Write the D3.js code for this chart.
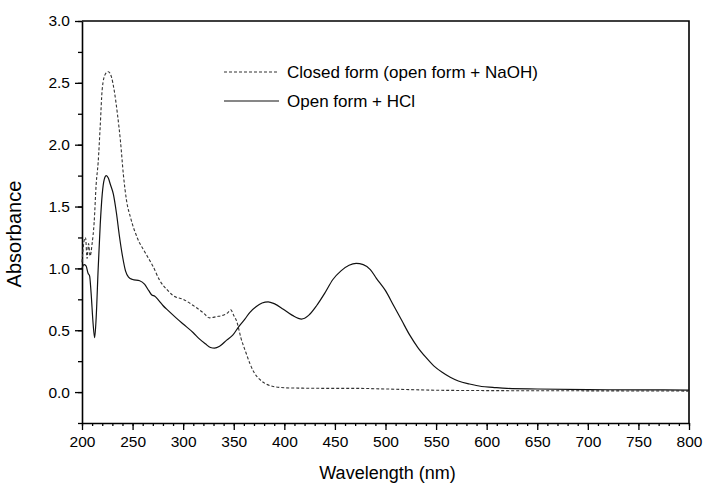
<!DOCTYPE html>
<html>
<head>
<meta charset="utf-8">
<script src="https://cdn.jsdelivr.net/npm/d3@7"></script>
<style>
	body { margin: 0; background: #fff; }
	text { font-family: Arial, "Liberation Sans", sans-serif; fill: #000; }
</style>
</head>
<body>
<div id="my_dataviz"></div>
<script>
var margin = { top: 21, right: 15, bottom: 69, left: 82 },
	width = 704 - margin.left - margin.right,
	height = 492 - margin.top - margin.bottom;

// Open form + HCl (solid)
const hclWl = [200,202,204,206,207.5,209,211,212.5,214,216,218,220,222,224,226,228,231,234,237,240,243,246,250,257,262,266,269,272,276,280,285,293,300,310,316,322,327,331,336,343,349,355,361,366,372,378,384,390,399,408,417,424,432,440,448,456,464,471,478,485,491,500,508,516,524,532,540,548,556,564,572,583,595,606,620,650,700,750,800];
const hclAbs = [1.0,1.03,1.02,0.96,0.94,0.8,0.55,0.44,0.6,1.0,1.35,1.6,1.72,1.75,1.73,1.68,1.6,1.45,1.26,1.1,0.98,0.93,0.91,0.9,0.87,0.82,0.785,0.775,0.74,0.7,0.66,0.6,0.55,0.48,0.43,0.39,0.36,0.355,0.37,0.42,0.46,0.53,0.59,0.645,0.69,0.72,0.73,0.715,0.67,0.62,0.59,0.62,0.7,0.8,0.91,0.98,1.025,1.04,1.03,0.99,0.92,0.82,0.7,0.58,0.46,0.36,0.28,0.21,0.16,0.12,0.09,0.065,0.045,0.038,0.03,0.025,0.02,0.018,0.016];

// Closed form (open form + NaOH) (dashed)
const naohWl = [200,202,203.5,205,206.5,208,210,212,214,216,218,220,223,226,229,232,235,238,241,244,248,255,263,270,277,285,290,300,310,320,326,333,339,344,347,350,353,357,362,366,370,376,382,389,400,415,450,470,500,550,600,700,800];
const naohAbs = [1.05,1.22,1.25,1.08,1.2,1.1,1.2,1.37,1.68,1.86,2.15,2.45,2.57,2.59,2.55,2.43,2.25,2.03,1.75,1.55,1.41,1.24,1.12,1.02,0.9,0.82,0.78,0.75,0.7,0.64,0.6,0.61,0.62,0.64,0.665,0.62,0.57,0.44,0.32,0.23,0.16,0.1,0.065,0.045,0.035,0.032,0.03,0.03,0.025,0.015,0.012,0.01,0.008];

const xMajor = [200,250,300,350,400,450,500,550,600,650,700,750,800];
const yMajor = [0.0,0.5,1.0,1.5,2.0,2.5,3.0];
const seriesNames = ["Closed form (open form + NaOH)", "Open form + HCl"];

var svg = d3
	.select("#my_dataviz")
	.append("svg")
	.attr("width", width + margin.left + margin.right)
	.attr("height", height + margin.top + margin.bottom)
	.append("g")
	.attr("transform", "translate(" + margin.left + "," + margin.top + ")");

var x = d3.scaleLinear().domain([200, 800]).range([0, width]);
var y = d3.scaleLinear().domain([-0.25, 3.0]).range([height, 0]);

// minor ticks first
svg.append("g")
	.attr("transform", "translate(0," + height + ")")
	.call(d3.axisBottom(x).tickValues(d3.range(200, 801, 10)).tickSize(3).tickFormat(""))
	.call(g => g.select(".domain").remove())
	.selectAll("line").attr("stroke-width", 1.3);
svg.append("g")
	.call(d3.axisLeft(y).tickValues(d3.range(-0.25, 3.01, 0.25)).tickSize(4).tickFormat(""))
	.call(g => g.select(".domain").remove())
	.selectAll("line").attr("stroke-width", 1.3);

// Add X axis
var xAxis = svg.append("g")
	.attr("transform", "translate(0," + height + ")")
	.call(d3.axisBottom(x).tickValues(xMajor).tickSize(7).tickPadding(6).tickSizeOuter(0).tickFormat(d3.format("d")));
xAxis.selectAll("text").style("font-size", "15.5px");

// Add Y axis
var yAxis = svg.append("g")
	.call(d3.axisLeft(y).tickValues(yMajor).tickSize(7).tickPadding(5).tickSizeOuter(0).tickFormat(d3.format(".1f")));
yAxis.selectAll("text").style("font-size", "15.5px");

svg.selectAll(".domain").attr("stroke-width", 1.6);
svg.selectAll(".tick line").attr("stroke-width", 1.3);

// frame top and right
svg.append("path")
	.attr("d", "M0,0H" + width + "V" + height)
	.attr("fill", "none")
	.attr("stroke", "#000")
	.attr("stroke-width", 1.6);

svg.append("text")
	.attr("x", -height / 2 - 12)
	.attr("y", -61)
	.attr("transform", "rotate(-90)")
	.attr("text-anchor", "middle")
	.style("font-size", "20px")
	.text("Absorbance");

svg.append("text")
	.attr("x", width / 2 + 2)
	.attr("y", height + 56)
	.attr("text-anchor", "middle")
	.style("font-size", "18px")
	.text("Wavelength (nm)");

var line = d3.line()
	.x(function (d) { return x(d[0]); })
	.y(function (d) { return y(d[1]); })
	.curve(d3.curveMonotoneX);

svg.append("path")
	.datum(d3.zip(naohWl, naohAbs))
	.attr("d", line)
	.attr("fill", "none")
	.attr("stroke", "#333")
	.attr("stroke-width", 1.1)
	.attr("stroke-dasharray", "3,2");

svg.append("path")
	.datum(d3.zip(hclWl, hclAbs))
	.attr("d", line)
	.attr("fill", "none")
	.attr("stroke", "#111")
	.attr("stroke-width", 1.2);

// Legend
var legend = svg.append("g").attr("transform", "translate(142,51)");
legend.append("line")
	.attr("x1", 0).attr("x2", 55).attr("y1", 0).attr("y2", 0)
	.attr("stroke", "#333").attr("stroke-width", 1.1).attr("stroke-dasharray", "3,2");
legend.append("line")
	.attr("x1", 0).attr("x2", 55).attr("y1", 29).attr("y2", 29)
	.attr("stroke", "#111").attr("stroke-width", 1.2);
legend.selectAll("text.lab")
	.data(seriesNames)
	.enter()
	.append("text")
	.attr("class", "lab")
	.attr("x", 63)
	.attr("y", function (d, i) { return i * 29 + 6; })
	.style("font-size", "17px")
	.text(function (d) { return d; });
</script>
</body>
</html>
